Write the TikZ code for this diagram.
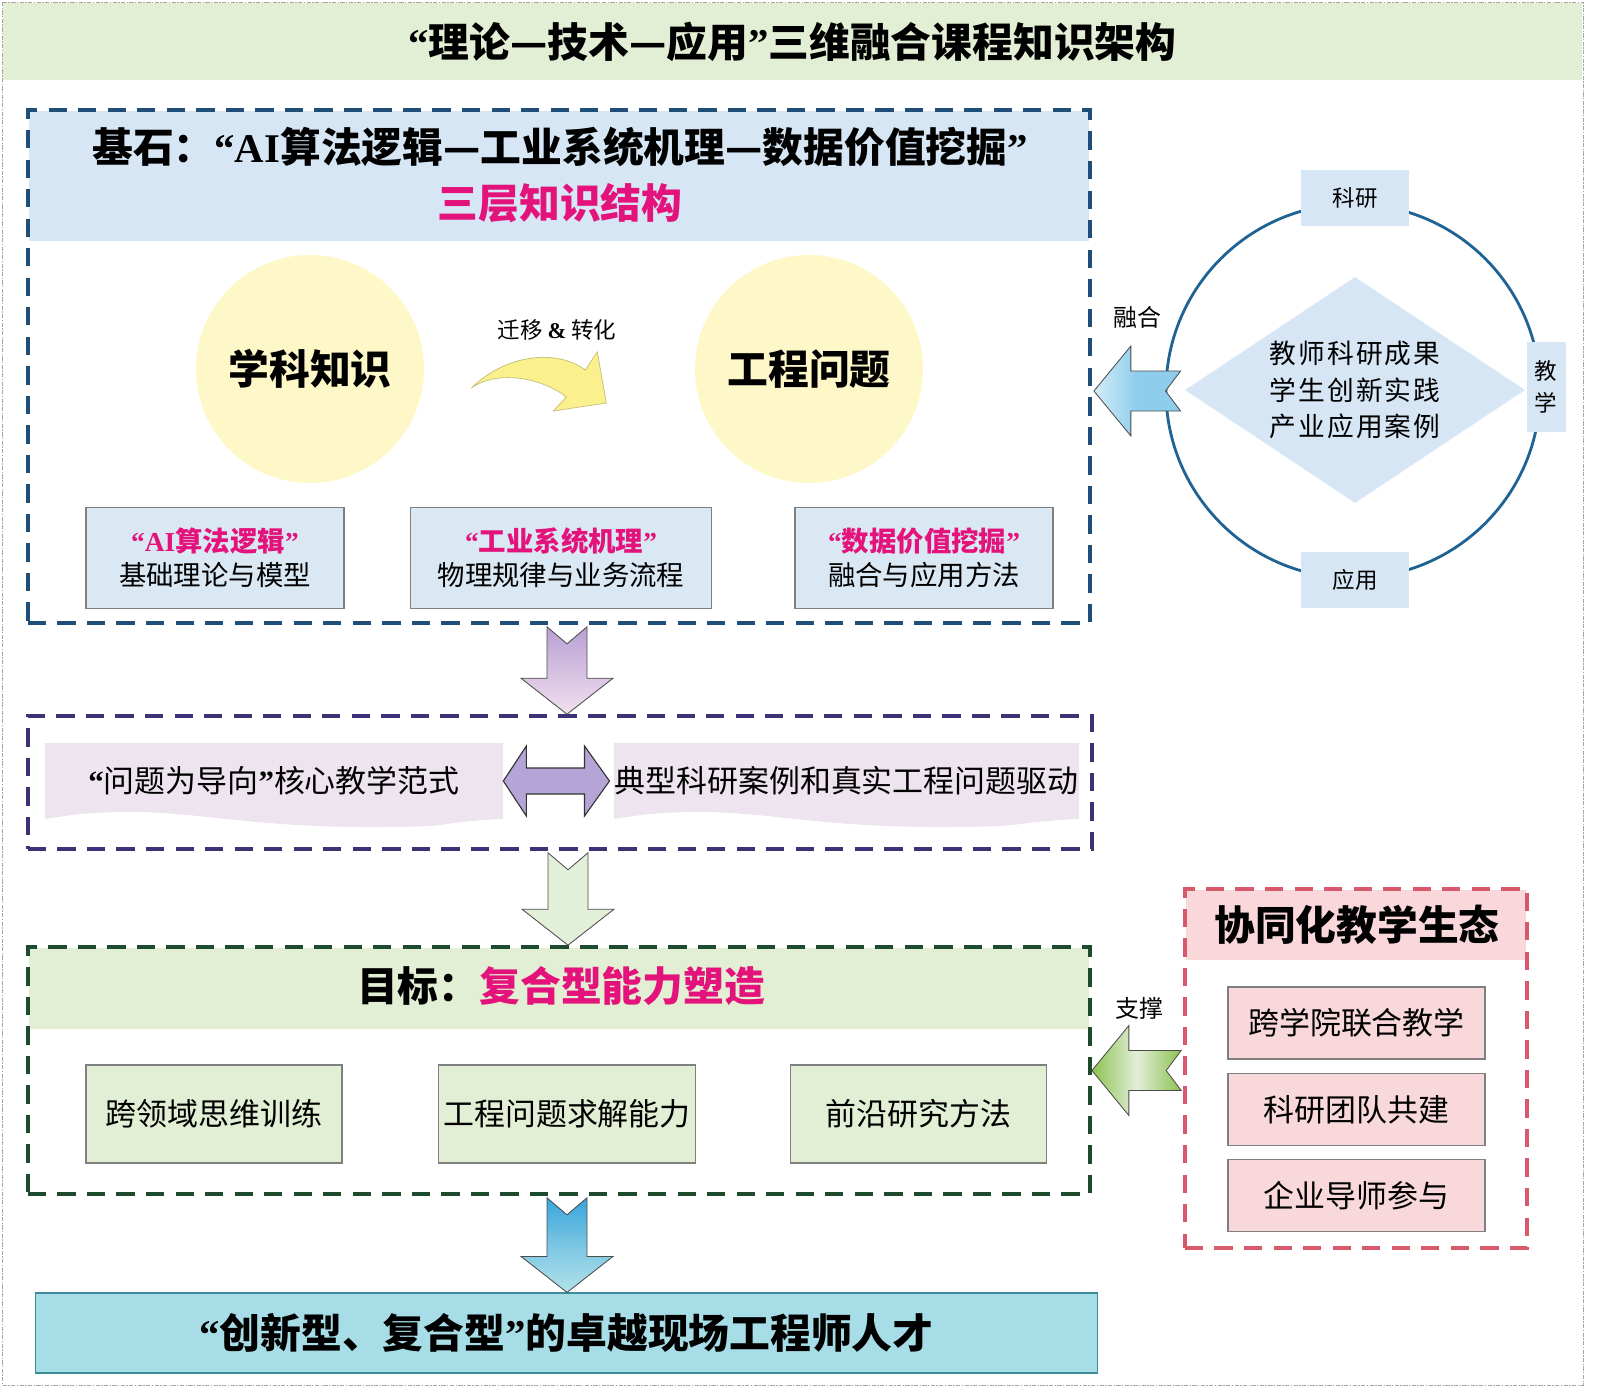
\documentclass[tikz,border=0pt]{standalone}
\usepackage{fontspec}
\setmainfont{Noto Sans CJK SC}
\newfontfamily\qfont{Liberation Serif}
\usetikzlibrary{shapes.geometric}
\usetikzlibrary{positioning}
\usetikzlibrary{calc}

\definecolor{titlegreen}{HTML}{E3EFD4}
\definecolor{headblue}{HTML}{D6E6F4}
\definecolor{frameblue}{HTML}{1F4E79}
\definecolor{hotpink}{HTML}{E4137B}
\definecolor{softyellow}{HTML}{FEF7C8}
\definecolor{paleblue}{HTML}{DAE8F4}
\definecolor{boxgray}{HTML}{7F7F7F}
\definecolor{ringblue}{HTML}{1F6394}
\definecolor{framepurple}{HTML}{3F3176}
\definecolor{bannerpink}{HTML}{EEE4EF}
\definecolor{twopurple}{HTML}{B4A5D6}
\definecolor{framegreen}{HTML}{1E4A2E}
\definecolor{talentcyan}{HTML}{A7DDE7}
\definecolor{talentedge}{HTML}{3D8A99}
\definecolor{framered}{HTML}{D9596C}
\definecolor{pinkhead}{HTML}{F9D7DA}
\definecolor{pinkcell}{HTML}{F8D8DA}
\definecolor{bendyellow}{HTML}{FAF18E}
\definecolor{bendedge}{HTML}{C6BC72}
\definecolor{fuseA}{HTML}{8ECDEB}
\definecolor{fuseB}{HTML}{D3ECF8}
\definecolor{supA}{HTML}{8DC251}
\definecolor{supB}{HTML}{E2EFD9}
\definecolor{downA}{HTML}{B8A0D4}
\definecolor{downB}{HTML}{F2E0EF}
\definecolor{downC}{HTML}{E2EFD9}
\definecolor{blueA}{HTML}{38A4DC}
\definecolor{blueB}{HTML}{B2E2E9}

\newcommand{\fsbig}{\fontsize{29pt}{34pt}\selectfont}
\newcommand{\fsmid}{\fontsize{22pt}{26pt}\selectfont}
\newcommand{\fslbl}{\fontsize{17pt}{20pt}\selectfont}
% narrow curly quotes
\newcommand{\qo}{{\qfont\bfseries “}}
\newcommand{\qc}{{\qfont\bfseries ”}}

\tikzset{
  outerline/.style={draw=gray!70, line width=0.6pt, dash pattern=on 3pt off 1pt on 1pt off 1pt},
  framebox/.style={dash pattern=on 13pt off 8pt, line width=2.5pt, inner sep=0pt},
  knowcircle/.style={circle, fill=softyellow, minimum size=5.7cm, inner sep=0pt, font=\fsbig\bfseries},
  knowbox/.style={draw=boxgray, fill=paleblue, line width=0.8pt, minimum height=2.525cm, align=center, font=\fontsize{19.5pt}{24pt}\selectfont},
  ringlbl/.style={fill=headblue, inner sep=0pt, font=\fontsize{16pt}{23pt}\selectfont},
  goalbox/.style={draw=boxgray, fill=titlegreen, line width=0.8pt, minimum width=6.4cm, minimum height=2.45cm, font=\fsmid},
  pinkbox/.style={draw=boxgray, fill=pinkcell, line width=0.8pt, minimum width=6.425cm, minimum height=1.8cm, font=\fsmid},
  bendarrow/.style={fill=bendyellow, draw=bendedge, line width=0.5pt},
  fusearrow/.style={draw=gray!60!black, line width=0.6pt, left color=fuseB, right color=fuseA, middle color=fuseA},
  suparrow/.style={draw=gray!60!black, line width=0.6pt, left color=supA, right color=supA, middle color=supB},
  twoarrow/.style={draw=black!80, line width=0.8pt, fill=twopurple},
  downpurple/.style={draw=gray!60!black, line width=0.6pt, top color=downA, bottom color=downB},
  downgreen/.style={draw=gray!60!black, line width=0.6pt, fill=downC},
  downblue/.style={draw=gray!60!black, line width=0.6pt, top color=blueA, bottom color=blueB, middle color=blueA!45!blueB}
}

% block arrows
\newcommand{\blockdown}[3]{%
  \coordinate (bdS) at ($(#1.south)+(8,2)$);
  \coordinate (bdE) at (bdS |- #2.north);
  \draw[#3] ($(bdS)+(-20,0)$) -- ($(bdS)+(0,17)$) -- ($(bdS)+(20,0)$) -- ($(bdE)+(20,-36)$) -- ($(bdE)+(46,-36)$) -- (bdE) -- ($(bdE)+(-46,-36)$) -- ($(bdE)+(-20,-36)$) -- cycle;}
\newcommand{\blockleft}[3]{%
  \draw[#3] (#1) -- ($(#1)+(37,-45)$) -- ($(#1)+(37,-20)$) -- ($(#2)+(0,-20)$) -- ($(#2)+(-15,0)$) -- ($(#2)+(0,20)$) -- ($(#1)+(37,20)$) -- ($(#1)+(37,45)$) -- cycle;}
\newcommand{\blockboth}[3]{%
  \draw[#3] (#1) -- ($(#1)+(23,-35)$) -- ($(#1)+(23,-13)$) -- ($(#2)+(-25,-13)$) -- ($(#2)+(-25,-35)$) -- (#2) -- ($(#2)+(-25,35)$) -- ($(#2)+(-25,13)$) -- ($(#1)+(23,13)$) -- ($(#1)+(23,35)$) -- cycle;}
\newcommand{\banner}[2]{%
  \fill[bannerpink] (#1,743) -- (#2,743) -- (#2,819) .. controls +(-80,4) and +(100,0) .. (#1+325,827) .. controls +(-120,0) and +(70,0) .. (#1+85,812) .. controls +(-40,0) and +(25,-4) .. (#1,819) -- cycle;}

\begin{document}
\begin{tikzpicture}[x=0.025cm, y=-0.025cm]
\useasboundingbox (0,0) rectangle (1600,1387);
\draw[outerline] (2,2) rectangle (1583,1385);

% title
\node[fill=titlegreen, minimum width=39.475cm, minimum height=1.925cm, font=\fsbig\bfseries] (title) at (792.5,41.5) {\qo 理论—技术—应用\qc 三维融合课程知识架构};

% foundation
\fill[headblue] (29,111) rectangle (1089,241);
\node[framebox, draw=frameblue, minimum width=26.55cm, minimum height=12.825cm] (base) at (559,366.5) {};
\node[font=\fsbig\bfseries] (baseTitle) at (560,147) {基石：\qo{\qfont AI}算法逻辑—工业系统机理—数据价值挖掘\qc};
\node[font=\fsbig\bfseries, text=hotpink] (baseSub) at (560,203) {三层知识结构};

\node[knowcircle] (know) at (310,369) {学科知识};
\node[knowcircle] (eng) at (809,369) {工程问题};
\begin{scope}[shift={(know.east)}]
  \draw[bendarrow] (47,19) .. controls (81,-14) and (131,-21) .. (161,1) -- (173,-17) -- (182,34) -- (129,42) -- (142,28) .. controls (121,11) and (76,-1) .. (47,19) -- cycle;
\end{scope}
\node[font=\fontsize{16pt}{18pt}\selectfont] (bendLbl) at (557,330) {迁移 {\qfont\bfseries\&} 转化};

\node[knowbox, minimum width=6.45cm] (algo) at (215,558) {\textcolor{hotpink}{\bfseries \qo{\qfont AI}算法逻辑\qc}\\基础理论与模型};
\node[knowbox, minimum width=7.525cm] (mech) at (561,558) {\textcolor{hotpink}{\bfseries \qo 工业系统机理\qc}\\物理规律与业务流程};
\node[knowbox, minimum width=6.45cm] (data) at (924,558) {\textcolor{hotpink}{\bfseries \qo 数据价值挖掘\qc}\\融合与应用方法};

% teaching - research - application ring
\node[circle, draw=ringblue, line width=2pt, minimum size=9.35cm] (ring) at (1353,391) {};
\node[diamond, fill=headblue, aspect=1.5, inner sep=0pt, minimum width=8.5cm, minimum height=5.65cm, align=center, font=\fontsize{19pt}{26pt}\selectfont\addfontfeatures{LetterSpace=8}] (core) at (1355,390) {教师科研成果\\学生创新实践\\产业应用案例};
\node[ringlbl, minimum width=2.7cm, minimum height=1.375cm] (res) at (1355,198) {科研};
\node[ringlbl, minimum width=2.7cm, minimum height=1.375cm] (app) at (1355,580) {应用};
\node[ringlbl, minimum width=0.975cm, minimum height=2.25cm, align=center] (teach) at (1546,387) {教\\学};

\coordinate (fuseTip) at ($(base.east |- ring.west)+(2,0)$);
\coordinate (fuseEnd) at ($(ring.west)+(16,0)$);
\blockleft{fuseTip}{fuseEnd}{fusearrow}
\node[font=\fslbl] (fuseLbl) at (1137,317) {融合};

% teaching paradigm
\node[framebox, draw=framepurple, minimum width=26.6cm, minimum height=3.325cm] (way) at (560,782.5) {};
\banner{45}{503}
\banner{614}{1079}
\node[font=\fsmid, minimum width=11.45cm] (probL) at (274,781) {\qo 问题为导向\qc 核心教学范式};
\node[font=\fsmid, minimum width=11.625cm] (caseR) at (846.5,781) {典型科研案例和真实工程问题驱动};
\blockboth{probL.east}{caseR.west}{twoarrow}

% goal
\fill[titlegreen] (29,948) rectangle (1089,1029);
\node[framebox, draw=framegreen, minimum width=26.55cm, minimum height=6.175cm] (goal) at (559,1070.5) {};
\node[font=\fsbig\bfseries] (goalTitle) at (561,986) {目标：\textcolor{hotpink}{复合型能力塑造}};
\node[goalbox] (cross) at (214,1114) {跨领域思维训练};
\node[goalbox] (solve) at (567,1114) {工程问题求解能力};
\node[goalbox] (front) at (918.5,1114) {前沿研究方法};

% outcome
\node[draw=talentedge, fill=talentcyan, line width=0.8pt, minimum width=26.525cm, minimum height=2cm, font=\fsbig\bfseries] (talent) at (566.5,1333) {\qo 创新型、复合型\qc 的卓越现场工程师人才};

\blockdown{base}{way}{downpurple}
\blockdown{way}{goal}{downgreen}
\blockdown{goal}{talent}{downblue}

% collaborative ecology
\fill[pinkhead] (1186,890) rectangle (1526,960);
\node[framebox, draw=framered, minimum width=8.55cm, minimum height=8.975cm] (coop) at (1356,1068.5) {};
\node[font=\fsbig\bfseries] (coopTitle) at (1357,925) {协同化教学生态};
\node[pinkbox] (joint) at (1356.5,1023) {跨学院联合教学};
\node[pinkbox, below=0.33cm of joint] (team) {科研团队共建};
\node[pinkbox, below=0.33cm of team] (mentor) {企业导师参与};

\coordinate (supTip) at (goal.east);
\coordinate (supEnd) at ($(goal.east -| coop.west)+(-2,0)$);
\blockleft{supTip}{supEnd}{suparrow}
\node[font=\fslbl] (supLbl) at (1139,1008) {支撑};
\end{tikzpicture}
\end{document}
